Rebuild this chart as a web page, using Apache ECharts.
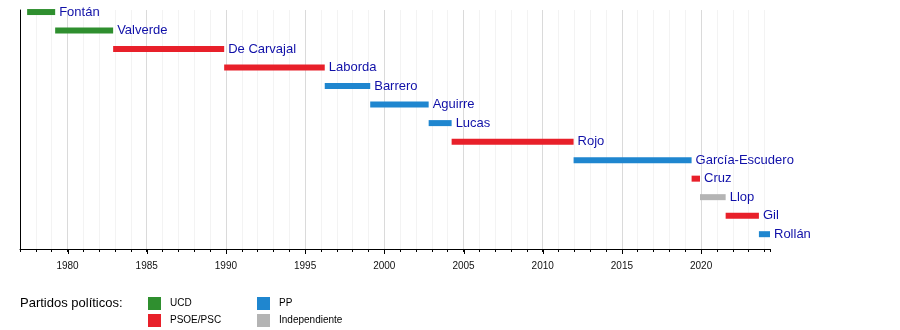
<!DOCTYPE html>
<html><head><meta charset="utf-8">
<script src="https://cdn.jsdelivr.net/npm/echarts@6/dist/echarts.min.js"></script>
<style>html,body{margin:0;padding:0;background:#fff}#c{width:900px;height:330px}</style>
</head><body><div id="c"></div>
<script>
const names = ['Fontán','Valverde','De Carvajal','Laborda','Barrero','Aguirre','Lucas','Rojo','García-Escudero','Cruz','Llop','Gil','Rollán'];
const starts = [1977.45,1979.22,1982.88,1989.89,1996.24,1999.11,2002.80,2004.25,2011.95,2019.40,2019.93,2021.55,2023.65];
const ends   = [1979.22,1982.88,1989.89,1996.24,1999.11,2002.80,2004.25,2011.95,2019.40,2019.93,2021.55,2023.65,2024.35];
const parties = ['UCD','UCD','PSOE/PSC','PSOE/PSC','PP','PP','PP','PSOE/PSC','PP','PSOE/PSC','Independiente','PSOE/PSC','PP'];
const partyNames = ['UCD','PSOE/PSC','PP','Independiente'];
const partyColors = ['#2f8f2f','#e8202a','#1f86cf','#b4b4b4'];
const yearLabels = [1980,1985,1990,1995,2000,2005,2010,2015,2020];
const axisMin = 1977, axisMax = 2024.35;
const rowMin = -0.11, rowMax = 12.8;

function renderItem(params, api) {
  const s = api.coord([api.value(0), api.value(2)]);
  const e = api.coord([api.value(1), api.value(2)]);
  const h = 6;
  return {
    type: 'group',
    children: [
      { type: 'rect', shape: { x: s[0], y: s[1] - h / 2, width: e[0] - s[0], height: h }, style: { fill: api.visual('color') } },
      { type: 'text', style: { x: e[0] + 4, y: s[1], text: names[api.value(3)], fill: '#1010a8', font: '13px "Liberation Sans", Arial, sans-serif', verticalAlign: 'middle', align: 'left' } }
    ]
  };
}

const series = partyNames.map((p, k) => ({
  name: p,
  type: 'custom',
  renderItem: renderItem,
  itemStyle: { color: partyColors[k] },
  encode: { x: [0, 1], y: 2 },
  data: names.map((n, i) => [starts[i], ends[i], i, i]).filter((d, i) => parties[i] === p),
  clip: false,
  silent: true
}));

// longer ticks at the labelled years
series.push({
  name: 'majorTicks',
  type: 'custom',
  silent: true,
  clip: false,
  encode: { x: 0, y: 1 },
  data: yearLabels.map(y => [y, rowMax]),
  renderItem: (params, api) => {
    const p = api.coord([api.value(0), api.value(1)]);
    const x = Math.round(p[0]) + 0.5;
    return { type: 'line', shape: { x1: x, y1: p[1], x2: x, y2: p[1] + 5 }, style: { stroke: '#000', lineWidth: 1 } };
  }
});

const chart = echarts.init(document.getElementById('c'), null, { renderer: 'canvas' });
const legendCommon = {
  orient: 'vertical', icon: 'rect', itemWidth: 13, itemHeight: 13, itemGap: 4, padding: 0,
  textStyle: { fontSize: 10, color: '#000', fontFamily: '"Liberation Sans", Arial, sans-serif', padding: [0, 0, 0, 4] },
  selectedMode: false
};
chart.setOption({
  animation: false,
  textStyle: { fontFamily: '"Liberation Sans", Arial, sans-serif' },
  title: { text: 'Partidos políticos:', left: 15, top: 292, textStyle: { fontSize: 13, fontWeight: 'normal', color: '#000' } },
  legend: [
    Object.assign({ left: 148, top: 297, data: ['UCD', 'PSOE/PSC'] }, legendCommon),
    Object.assign({ left: 257, top: 297, data: ['PP', 'Independiente'] }, legendCommon)
  ],
  grid: { left: 20, right: 130, top: 10, bottom: 81, containLabel: false },
  xAxis: {
    type: 'value', min: axisMin, max: axisMax, interval: 1,
    axisLine: { show: true, onZero: false, lineStyle: { color: '#000', width: 1 } },
    axisTick: { show: true, length: 3, lineStyle: { color: '#000' } },
    axisLabel: { show: true, customValues: yearLabels, fontSize: 10, color: '#111', margin: 12,
      formatter: v => (Math.abs(v % 5) < 1e-6 ? String(v) : '') },
    splitLine: { show: true, showMaxLine: false, lineStyle: { color: ['#f3f3f3', '#f3f3f3', '#f3f3f3', '#dadada', '#f3f3f3'], width: 1 } }
  },
  yAxis: {
    type: 'value', inverse: true, min: rowMin, max: rowMax,
    axisLine: { show: true, onZero: false, lineStyle: { color: '#000', width: 1 } },
    axisTick: { show: false }, axisLabel: { show: false }, splitLine: { show: false }
  },
  series: series
});
</script></body></html>
